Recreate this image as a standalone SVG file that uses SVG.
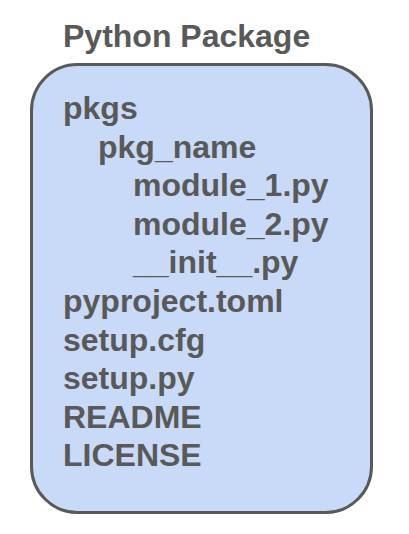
<svg xmlns="http://www.w3.org/2000/svg" width="409" height="534" viewBox="0 0 409 534">
<style>
text{font-family:"Liberation Sans",Arial,sans-serif;font-weight:bold;fill:#595959;font-size:32px}
</style>
<rect width="409" height="534" fill="#ffffff"/>
<g id="title"><text x="63" y="47">Python Package</text></g>
<g id="package">
<rect x="31.5" y="64.5" width="340" height="448" rx="46" ry="46" fill="#c9daf8" stroke="#595959" stroke-width="3"/>
<text x="63" y="119">pkgs</text>
<text x="98" y="157.5">pkg_name</text>
<text x="133" y="196">module_1.py</text>
<text x="133" y="234.5">module_2.py</text>
<text x="133" y="273">__init__.py</text>
<text x="63" y="312">pyproject.toml</text>
<text x="63" y="350.5">setup.cfg</text>
<text x="63" y="389">setup.py</text>
<text x="63" y="427.5">README</text>
<text x="63" y="466">LICENSE</text>
</g>
<g id="connectors"></g>
</svg>
